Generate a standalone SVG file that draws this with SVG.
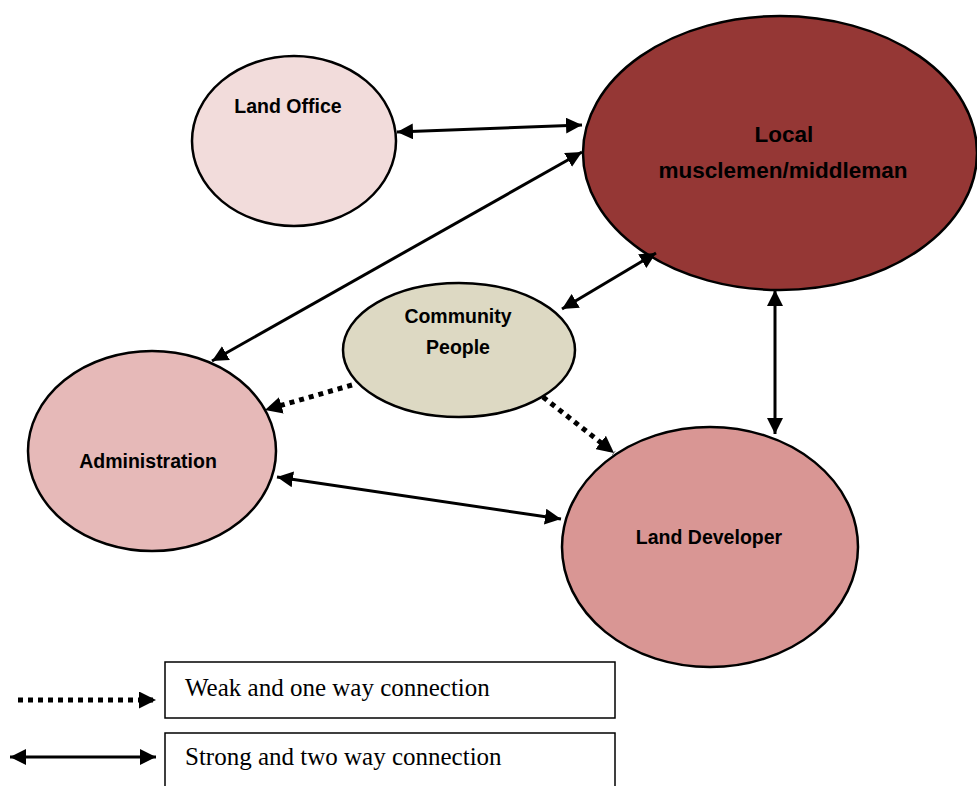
<svg xmlns="http://www.w3.org/2000/svg" width="977" height="786" viewBox="0 0 977 786">
<style>
.node{stroke:#000;stroke-width:2.5}
.lbl{font-family:"Liberation Sans",Arial,sans-serif;font-weight:bold;font-size:19.5px;fill:#000;text-anchor:middle}
.big{font-size:22.5px}
.strong{stroke:#000;stroke-width:3;fill:none}
.weak{stroke:#000;stroke-width:5;fill:none;stroke-dasharray:5 5}
.leg{font-family:"Liberation Serif","Times New Roman",serif;font-size:25px;fill:#000}
.box{fill:#fff;stroke:#000;stroke-width:1.5}
</style>
<defs>
<marker id="ah" viewBox="0 0 12 12" refX="12" refY="6" markerWidth="16" markerHeight="16" markerUnits="userSpaceOnUse" orient="auto-start-reverse">
<path d="M0,0 L12,6 L0,12 z" fill="#000"/>
</marker>
<marker id="ahw" viewBox="0 0 12 12" refX="12" refY="6" markerWidth="17" markerHeight="17" markerUnits="userSpaceOnUse" orient="auto">
<path d="M0,0 L12,6 L0,12 z" fill="#000"/>
</marker>
</defs>
<rect width="977" height="786" fill="#fff"/>
<g id="node-land-office">
<ellipse class="node" cx="294" cy="141" rx="102" ry="85" fill="#f2dcdb"/>
<text class="lbl" x="288" y="113">Land Office</text>
</g>
<g id="node-local">
<ellipse class="node" cx="780" cy="153" rx="197" ry="137" fill="#953735"/>
<text class="lbl big" x="784" y="142">Local</text>
<text class="lbl big" x="783" y="178">musclemen/middleman</text>
</g>
<g id="node-community">
<ellipse class="node" cx="459" cy="350" rx="116" ry="67" fill="#ddd9c3"/>
<text class="lbl" x="458" y="323">Community</text>
<text class="lbl" x="458" y="354">People</text>
</g>
<g id="node-administration">
<ellipse class="node" cx="152" cy="451" rx="124" ry="100" fill="#e6b9b8"/>
<text class="lbl" x="148" y="468">Administration</text>
</g>
<g id="node-land-developer">
<ellipse class="node" cx="710" cy="547" rx="148" ry="120" fill="#d99694"/>
<text class="lbl" x="709" y="544">Land Developer</text>
</g>
<g id="connectors">
<line class="strong" x1="397" y1="132" x2="582" y2="125" marker-start="url(#ah)" marker-end="url(#ah)"/>
<line class="strong" x1="582" y1="152" x2="212" y2="361" marker-start="url(#ah)" marker-end="url(#ah)"/>
<line class="strong" x1="562" y1="309" x2="656" y2="253" marker-start="url(#ah)" marker-end="url(#ah)"/>
<line class="strong" x1="775" y1="290" x2="775" y2="434" marker-start="url(#ah)" marker-end="url(#ah)"/>
<line class="strong" x1="277" y1="477" x2="561" y2="519" marker-start="url(#ah)" marker-end="url(#ah)"/>
<line class="weak" x1="352" y1="385" x2="265" y2="410" marker-end="url(#ahw)"/>
<line class="weak" x1="543" y1="397" x2="614" y2="453" marker-end="url(#ahw)"/>
</g>
<g id="legend">
<rect class="box" x="165" y="662" width="450" height="56"/>
<rect class="box" x="165" y="733" width="450" height="60"/>
<text class="leg" x="185" y="696">Weak and one way connection</text>
<text class="leg" x="185" y="765">Strong and two way connection</text>
<line class="weak" x1="18" y1="700" x2="156" y2="700" marker-end="url(#ahw)"/>
<line class="strong" x1="10" y1="757" x2="156" y2="757" marker-start="url(#ah)" marker-end="url(#ah)"/>
</g>
</svg>
